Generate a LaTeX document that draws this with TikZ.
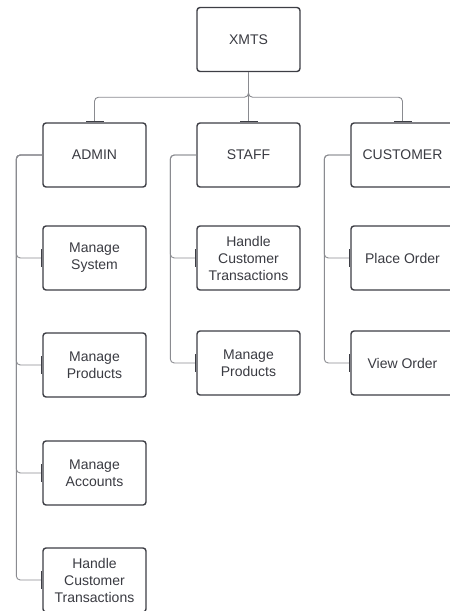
\documentclass[tikz,border=0pt]{standalone}
\usepackage{fontspec}
\setmainfont{Liberation Sans}
\usetikzlibrary{arrows.meta}

\definecolor{boxline}{HTML}{3D3E45}
\definecolor{txtgray}{HTML}{3A3B42}
\definecolor{linkgray}{HTML}{8A8B90}

\tikzset{
	role/.style={draw=boxline, line width=1.4pt, rounded corners=3pt, fill=white,
		minimum width=103pt, minimum height=64pt, align=center, text=txtgray,
		font=\fontsize{14}{17}\selectfont},
	link/.style={draw=linkgray, line width=0.9pt, rounded corners=4pt,
		-{Bar[width=18pt,line width=1.6pt,color=boxline]}},
}

\begin{document}
\begin{tikzpicture}[x=1pt,y=-1pt]
		\useasboundingbox (0,0) rectangle (450,611);
		
		\node[role] (xmts) at (248.5,39.5) {XMTS}; % root
		
		\node[role] (admin) at (94.5,155) {ADMIN};
		\node[role] (staff) at (248.5,155) {STAFF};
		\node[role] (cust) at (402.5,155) {CUSTOMER};
		
		% admin
		\node[role] (asys) at (94.5,258) {Manage\\System};
		\node[role] (aprod) at (94.5,365) {Manage\\Products};
		\node[role] (aacc) at (94.5,473) {Manage\\Accounts};
		\node[role] (atrans) at (94.5,580) {Handle\\Customer\\Transactions};
		
		% staff
		\node[role] (strans) at (248.5,258) {Handle\\Customer\\Transactions};
		\node[role] (sprod) at (248.5,363) {Manage\\Products};
		
		% customer
		\node[role] (cplace) at (402.5,258) {Place Order};
		\node[role] (cview) at (402.5,363) {View Order};
		
		\draw[link] (xmts.south) -- ++(0,25) -| (admin.north);
		\draw[link] (xmts.south) -- (staff.north);
		\draw[link] (xmts.south) -- ++(0,25) -| (cust.north);
		
		\foreach \kid in {asys,aprod,aacc,atrans}
			\draw[link] (admin.west) -- ++(-26,0) |- (\kid.west);
		\foreach \kid in {strans,sprod}
			\draw[link] (staff.west) -- ++(-26,0) |- (\kid.west);
		\foreach \kid in {cplace,cview}
			\draw[link] (cust.west) -- ++(-26,0) |- (\kid.west);
		
\end{tikzpicture}
\end{document}
